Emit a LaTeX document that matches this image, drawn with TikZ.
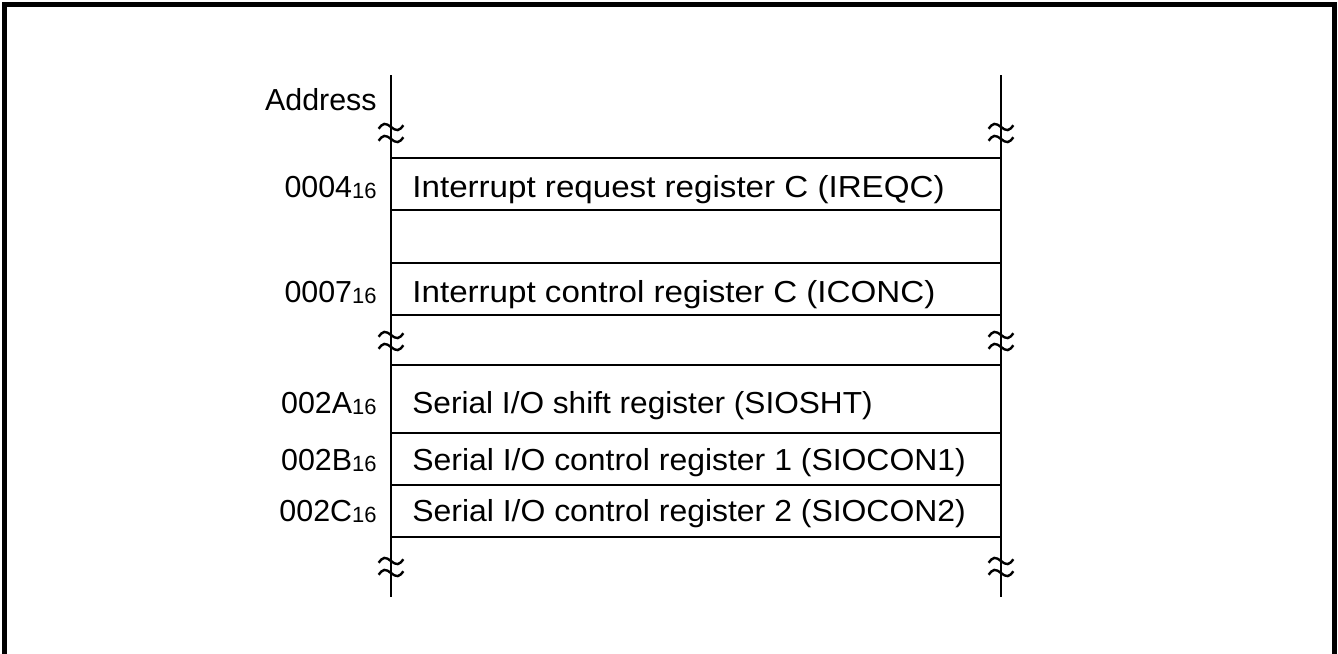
\documentclass[tikz,border=0pt]{standalone}
\usepackage{fontspec}
\setmainfont{Liberation Sans}
\newcommand{\hexsub}[1]{#1{\fontsize{11}{11}\selectfont\raisebox{-0.6pt}{16}}}

\begin{document}
\begin{tikzpicture}[x=0.5pt, y=-0.5pt, every node/.style={font=\fontsize{15.2}{18}\selectfont}]
\tikzset{wall/.style={line width=1.3pt}}
\tikzset{row/.style={line width=1.3pt}}
\tikzset{brk/.style={line width=1.2pt}}
\tikzset{addr/.style={anchor=base east, inner sep=0pt}}
\tikzset{reg/.style={anchor=base west, inner sep=0pt, font=\fontsize{15.2}{18}\selectfont\addfontfeature{FakeStretch=#1}}}

\useasboundingbox (0,0) rectangle (1338,653);
% outer frame
\draw[line width=2.6pt] (4.5,720) -- (4.5,4.5) -- (1334.5,4.5) -- (1334.5,720);

% walls of the map
\coordinate (lt) at (391,75);  \coordinate (lb) at (391,597);
\coordinate (rt) at (1001,75); \coordinate (rb) at (1001,597);
\draw[wall] (lt) -- (lb);
\draw[wall] (rt) -- (rb);

% row lines
\foreach \y [count=\i] in {158,210,263,315,365,433,485,537} {
  \coordinate (l\i) at (391,\y);
  \coordinate (r\i) at (1001,\y);
  \draw[row] (l\i) -- (r\i);
}

% break marks
\foreach \y [count=\k] in {133,341,567} {
  \coordinate (bl\k) at (391,\y);
  \coordinate (br\k) at (1001,\y);
  \foreach \c in {bl\k,br\k} {
    \foreach \d in {-6,6} {
      \draw[brk, shift={(\c)}, yshift=-\d*0.5pt, rotate=8]
        (-12.5,0) sin (-6.25,-4) cos (0,0) sin (6.25,4) cos (12.5,0);
    }
  }
}

% labels
\node[addr] (head) at (377,110) {Address};
\node[addr] (a1) at (377,197) {\hexsub{0004}};
\node[addr] (a2) at (377,302) {\hexsub{0007}};
\node[addr] (a3) at (377,413) {\hexsub{002A}};
\node[addr] (a4) at (377,470) {\hexsub{002B}};
\node[addr] (a5) at (377,521) {\hexsub{002C}};

\node[reg=1.09] (ireqc) at (412,197) {Interrupt request register C (IREQC)};
\node[reg=1.09] (iconc) at (412,302) {Interrupt control register C (ICONC)};
\node[reg=1.04] (siosht) at (412,413) {Serial I/O shift register (SIOSHT)};
\node[reg=1.05] (siocon1) at (412,470) {Serial I/O control register 1 (SIOCON1)};
\node[reg=1.05] (siocon2) at (412,521) {Serial I/O control register 2 (SIOCON2)};
\end{tikzpicture}
\end{document}
